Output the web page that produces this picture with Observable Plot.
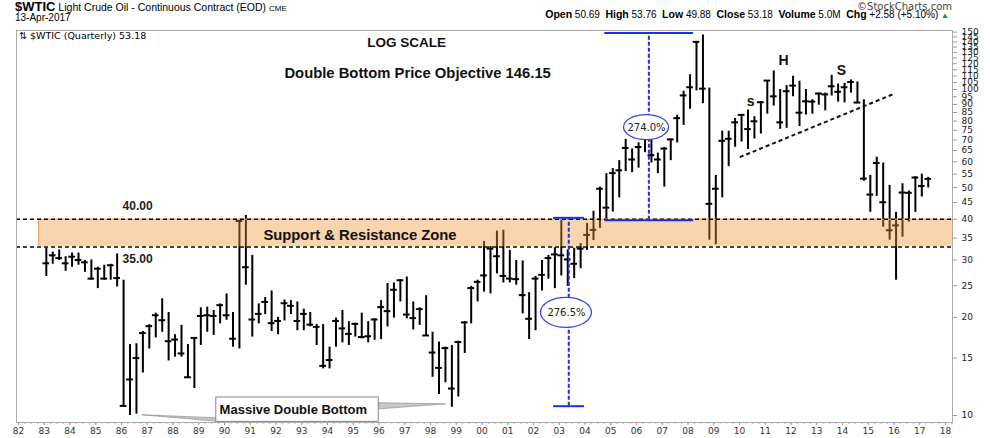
<!DOCTYPE html>
<html><head><meta charset="utf-8">
<script src="https://cdn.jsdelivr.net/npm/d3@7"></script>
<script src="https://cdn.jsdelivr.net/npm/@observablehq/plot@0.6"></script>
<style>
body{margin:0;background:#fff;}
#wrap{position:relative;width:990px;height:438px;overflow:hidden;font-family:"Liberation Sans",Arial,sans-serif;color:#000;}
.hd{position:absolute;white-space:nowrap;line-height:1;}
#chart svg{display:block;}
</style></head><body>
<div id="wrap">
  <div id="chart"></div>
  <div class="hd" style="left:15px;top:0px;font-size:10.5px;"><b style="font-size:13px">$WTIC</b> Light Crude Oil - Continuous Contract (EOD) <span style="font-size:8px">CME</span></div>
  <div class="hd" style="left:15px;top:13px;font-size:10px;">13-Apr-2017</div>
  <div class="hd" style="right:38px;top:2px;font-size:10px;color:#444;font-family:'DejaVu Sans',sans-serif;">©StockCharts.com</div>
  <div class="hd" style="right:41px;top:9px;font-size:10px;"><b style="font-size:10.5px">Open</b> 50.69&nbsp; <b style="font-size:10.5px">High</b> 53.76&nbsp; <b style="font-size:10.5px">Low</b> 49.88&nbsp; <b style="font-size:10.5px">Close</b> 53.18&nbsp; <b style="font-size:10.5px">Volume</b> 5.0M&nbsp; <b style="font-size:10.5px">Chg</b> +2.58 (+5.10%) <span style="color:#2d8a2d;font-size:8px">▲</span></div>
  <div class="hd" style="left:19px;top:31px;font-size:9.5px;font-family:'DejaVu Sans',sans-serif;">⇅ $WTIC (Quarterly) 53.18</div>
</div>
<script>
// ---- Quarterly bars, Q1 1983 .. Q2 2017 ----
const startYear = 1983;
const highs = [
  32.6, 31.7, 32.2, 30.7,   31.5, 31.5, 29.9, 30.0,   28.5, 28.9, 29.1, 31.3,
  26.0, 16.5, 16.6, 18.1,   19.0, 20.6, 22.8, 20.7,   17.7, 18.9, 16.5, 17.3,
  21.4, 21.5, 21.0, 22.0,   23.6, 20.7, 39.8, 41.1,   31.0, 22.0, 23.0, 24.1,
  20.0, 22.6, 22.5, 22.3,   21.2, 20.7, 19.0, 19.0,   16.2, 19.9, 21.0, 19.4,
  19.2, 20.6, 19.4, 19.8,   22.5, 25.4, 25.5, 26.1,   26.6, 22.3, 21.4, 23.3,
  18.0, 16.8, 16.2, 16.4,   16.9, 19.4, 24.9, 26.0,   34.2, 33.0, 36.8, 37.0,
  32.1, 29.9, 29.8, 23.8,   26.7, 29.9, 31.0, 32.7,   39.8, 32.2, 32.6, 33.7,
  38.8, 42.3, 50.2, 55.2,   57.2, 60.5, 70.3, 65.7,   68.6, 75.4, 78.4, 63.8,
  66.4, 70.4, 83.4, 98.8,   111.0, 140.3, 147.0, 101.0, 54.5, 74.5, 74.5, 81.5,
  83.8, 86.5, 82.5, 91.8,   106.5, 114.0, 100.0, 102.8, 109.8, 106.0, 100.0, 93.0,
  97.5, 97.5, 110.5, 104.0, 104.5, 107.0, 105.5, 93.0, 54.5, 62.0, 59.5, 50.8,
  42.0, 51.4, 48.8, 54.0,   55.0, 53.76
];
const lows = [
  26.7, 29.1, 29.9, 27.7,   28.5, 28.9, 27.5, 26.0,   24.5, 26.0, 26.0, 24.8,
  10.7, 10.0, 10.1, 13.5,   16.0, 17.3, 18.0, 14.7,   15.1, 15.1, 13.0, 12.1,
  16.4, 18.0, 17.6, 19.1,   19.6, 16.2, 16.0, 25.1,   17.4, 19.1, 20.4, 18.1,
  17.7, 19.5, 20.4, 18.2,   18.2, 18.7, 16.4, 13.9,   13.9, 16.2, 16.7, 16.4,
  17.4, 17.2, 16.7, 17.0,   17.1, 18.7, 19.9, 22.3,   19.8, 18.3, 18.9, 17.5,
  13.1, 11.6, 12.6, 10.6,   11.4, 15.5, 19.1, 22.3,   23.9, 23.6, 27.2, 25.5,
  25.5, 25.1, 20.5, 17.1,   18.2, 24.1, 26.2, 24.5,   26.8, 24.9, 26.3, 28.2,
  32.1, 34.4, 37.5, 40.2,   42.1, 46.5, 56.0, 55.6,   57.4, 64.0, 59.5, 55.2,
  50.2, 60.5, 68.6, 77.6,   87.0, 99.0, 90.5, 34.5,   33.4, 46.5, 58.0, 66.5,
  69.0, 65.5, 70.5, 73.0,   84.0, 89.0, 75.5, 76.0,   95.0, 77.0, 83.5, 84.0,
  89.5, 86.0, 95.5, 91.5,   91.0, 97.5, 90.5, 52.3,   42.0, 47.0, 37.8, 34.5,
  26.0, 35.2, 39.2, 42.0,   46.8, 49.88
];
const closes = [
  29.3, 31.0, 30.4, 29.3,   30.7, 30.0, 29.5, 26.3,   28.2, 26.3, 28.9, 26.4,
  10.7, 12.9, 15.0, 17.9,   18.8, 20.3, 19.6, 16.9,   17.1, 15.5, 13.1, 17.3,
  20.2, 20.3, 20.2, 21.8,   20.3, 17.2, 39.5, 28.5,   19.7, 20.5, 22.3, 19.2,
  19.5, 22.1, 21.7, 19.5,   20.5, 19.0, 18.7, 14.2,   14.8, 19.5, 18.5, 17.8,
  19.1, 17.4, 17.5, 19.7,   21.5, 20.9, 24.3, 26.0,   20.4, 19.9, 21.2, 17.6,
  15.6, 14.0, 16.1, 12.1,   16.8, 19.3, 24.6, 25.7,   26.9, 32.5, 30.8, 26.8,
  26.3, 26.2, 23.4, 19.8,   26.3, 27.0, 30.4, 31.2,   31.0, 30.1, 29.2, 32.5,
  35.8, 37.1, 49.6, 43.4,   55.4, 56.5, 66.2, 61.0,   66.6, 73.9, 62.9, 61.0,
  65.9, 70.3, 81.7, 95.9,   101.6, 140.0, 100.6, 44.6, 49.6, 69.6, 70.6, 79.3,
  83.6, 75.6, 79.9, 91.4,   106.5, 95.3, 79.3, 98.8,  102.8, 84.9, 92.0, 91.8,
  97.2, 96.6, 102.3, 98.4,  101.6, 105.4, 91.2, 53.3,  47.6, 59.5, 45.1, 37.0,
  38.3, 48.3, 48.2, 53.7,   50.6, 53.18
];

// ---- axis tick values ----
const yTickValues = d3.range(10, 151, 5);
const yearTickValues = d3.range(1982, 2019);
const quarterTickValues = d3.range(0, 146).map(i => 1982 + i / 4);

// ---- annotations (data space) ----
const zone = {lo: 32.9, hi: 40, start: 1982.78};
const zoneLabels = [
  {t: 1986.04, p: 42.8, label: "40.00"},
  {t: 1986.04, p: 29.3, label: "35.00"}
];
const zoneTitle = [{t: 1991.51, p: 34.6, label: "Support & Resistance Zone"}];
const titles = [
  {t: 1997.07, p: 134.9, label: "LOG SCALE", size: 13.5},
  {t: 1997.5, p: 108.8, label: "Double Bottom Price Objective 146.15", size: 14.8}
];
const hsLabels = [
  {t: 2011.71, p: 118.5, label: "H"},
  {t: 2013.96, p: 110.4, label: "S"},
  {t: 2010.43, p: 89.3, label: "s"}
];
const neckline = [{t1: 2010.01, p1: 62.0, t2: 2016.0, p2: 97.0}];
const spans = [
  {t1: 2002.78, t2: 2003.98, tm: 2003.37, lo: 10.68, hi: 40.4},
  {t1: 2004.77, t2: 2008.22, tm: 2006.48, lo: 39.7, hi: 149}
];
const pctLabels = [
  {t: 2006.39, p: 76.4, label: "274.0%"},
  {t: 2003.28, p: 20.65, label: "276.5%"}
];
const callout = {t1: 1989.68, t2: 1995.99, lo: 9.56, hi: 11.36, textT: 1989.81, textP: 10.12, label: "Massive Double Bottom"};
const leftWedge = [[1986.80, 10.05], [1989.68, 9.839], [1989.68, 9.606], [1986.80, 10.05]];
const rightWedge = [[1995.99, 10.94], [1998.58, 10.86], [1995.99, 10.48], [1995.99, 10.94]];

// ---- build tables ----
const bars = highs.map((h, i) => ({t: startYear + i / 4 + 0.08, h, l: lows[i], c: closes[i]}));
const xDomain = [1981.922, 2018.272];
const blue = "#1f2fe6";
const bold = "Liberation Sans, Arial, sans-serif";

const ellipseSizes = [[22.5, 12.5], [25.5, 15]];
function ellipses(index, scales) {
  const g = d3.create("svg:g");
  pctLabels.forEach((d, i) => {
    g.append("ellipse")
      .attr("cx", scales.x(d.t)).attr("cy", scales.y(d.p))
      .attr("rx", ellipseSizes[i][0]).attr("ry", ellipseSizes[i][1])
      .attr("fill", "white").attr("stroke", "#3346e8").attr("stroke-width", 1.3);
  });
  return g.node();
}

const chart = Plot.plot({
  width: 990, height: 438,
  marginLeft: 16, marginRight: 38, marginTop: 30, marginBottom: 16,
  style: {fontFamily: "DejaVu Sans, sans-serif", background: "white", overflow: "visible", color: "#222"},
  x: {domain: xDomain},
  y: {type: "log", domain: [9.518, 151.7]},
  marks: [
    Plot.axisX({ticks: quarterTickValues, anchor: "bottom", tickSize: 2, tickFormat: () => "", stroke: "#bbb", label: null}),
    Plot.axisX({ticks: yearTickValues, anchor: "bottom", tickSize: 3, tickPadding: 2, tickFormat: d => String(d % 100).padStart(2, "0"), fontSize: 9, stroke: "#999", fill: "#333", label: null}),
    Plot.axisY({ticks: yTickValues, anchor: "right", tickSize: 4, tickPadding: 5, tickFormat: d => String(d), fontSize: 9, stroke: "#999", fill: "#222", label: null}),
    // lower zone line (under the band)
    Plot.ruleY([zone], {y: "lo", stroke: "#000", strokeWidth: 1.5, strokeDasharray: "4,3"}),
    // price bars
    Plot.ruleX(bars, {x: "t", y1: "l", y2: "h", stroke: "#000", strokeWidth: 2}),
    Plot.ruleY(bars, {y: "c", x1: d => d.t - 0.13, x2: d => d.t + 0.13, stroke: "#000", strokeWidth: 2}),
    // support / resistance band
    Plot.rect([zone], {x1: "start", x2: () => xDomain[1], y1: "lo", y2: "hi", fill: "#ED9632", fillOpacity: 0.4}),
    Plot.ruleY([zone], {y: "hi", x1: "start", x2: () => xDomain[1], stroke: "#F2A45A", strokeWidth: 1}),
    Plot.ruleX([zone], {x: "start", y1: "lo", y2: "hi", stroke: "#F2A45A", strokeWidth: 1}),
    Plot.ruleY([zone], {y: "hi", stroke: "#000", strokeWidth: 1.5, strokeDasharray: "4,3"}),
    // measured moves
    Plot.ruleY(spans, {y: "lo", x1: "t1", x2: "t2", stroke: blue, strokeWidth: 2}),
    Plot.ruleY(spans, {y: "hi", x1: "t1", x2: "t2", stroke: blue, strokeWidth: 2}),
    Plot.ruleX(spans, {x: "tm", y1: "lo", y2: "hi", stroke: blue, strokeWidth: 2, strokeDasharray: "4,2"}),
    // neckline
    Plot.link(neckline, {x1: "t1", y1: "p1", x2: "t2", y2: "p2", stroke: "#111", strokeWidth: 2, strokeDasharray: "4,3"}),
    // percentage ellipses
    ellipses,
    Plot.text(pctLabels, {x: "t", y: "p", text: "label", fontSize: 10, fill: "#222", fontFamily: "DejaVu Sans, sans-serif"}),
    // callout
    Plot.line(leftWedge, {x: d => d[0], y: d => d[1], fill: "#c8c8c8", stroke: "#999", strokeWidth: 0.8}),
    Plot.line(rightWedge, {x: d => d[0], y: d => d[1], fill: "#c8c8c8", stroke: "#999", strokeWidth: 0.8}),
    Plot.rect([callout], {x1: "t1", x2: "t2", y1: "lo", y2: "hi", fill: "white", stroke: "#888", strokeWidth: 1}),
    Plot.text([callout], {x: "textT", y: "textP", text: "label", textAnchor: "start", lineAnchor: "bottom", fontSize: 13, fontWeight: "bold", fontFamily: bold, fill: "#111"}),
    // texts
    Plot.text(zoneLabels, {x: "t", y: "p", text: "label", textAnchor: "start", lineAnchor: "bottom", fontSize: 12, fontWeight: "bold", fontFamily: bold, fill: "#222"}),
    Plot.text(zoneTitle, {x: "t", y: "p", text: "label", textAnchor: "start", lineAnchor: "bottom", fontSize: 14.8, fontWeight: "bold", fontFamily: bold, fill: "#111"}),
    Plot.text(titles, {x: "t", y: "p", text: "label", lineAnchor: "bottom", fontSize: d => d.size, fontWeight: "bold", fontFamily: bold, fill: "#111"}),
    Plot.text(hsLabels, {x: "t", y: "p", text: "label", lineAnchor: "bottom", fontSize: 14, fontWeight: "bold", fontFamily: bold, fill: "#111"}),
    Plot.frame({stroke: "#aaa"})
  ]
});
document.getElementById("chart").appendChild(chart);
</script>
</body></html>
